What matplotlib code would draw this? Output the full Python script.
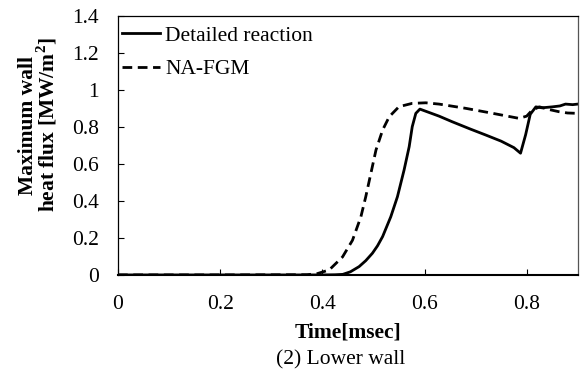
import matplotlib
matplotlib.use("Agg")
import matplotlib.pyplot as plt

plt.rcParams['font.family'] = ['Liberation Serif', 'DejaVu Serif']
plt.rcParams['mathtext.fontset'] = 'custom'
plt.rcParams['mathtext.rm'] = 'Liberation Serif'
plt.rcParams['mathtext.bf'] = 'Liberation Serif:bold'

FS = 15.5

# Time [msec] and maximum wall heat flux [MW/m^2]
t_detailed = [0.0, 0.2, 0.40, 0.425, 0.44, 0.455, 0.472, 0.485, 0.498, 0.508, 0.518,
              0.534, 0.547, 0.560, 0.570, 0.576, 0.583, 0.591, 0.6285, 0.654, 0.69,
              0.72, 0.75, 0.775, 0.788, 0.798, 0.807, 0.818, 0.83, 0.85, 0.865,
              0.876, 0.89, 0.9]
q_detailed = [0.003, 0.003, 0.003, 0.004, 0.006, 0.02, 0.048, 0.08, 0.12, 0.16, 0.21,
              0.317, 0.425, 0.569, 0.695, 0.803, 0.875, 0.898, 0.86, 0.83, 0.79,
              0.758, 0.725, 0.69, 0.66, 0.76, 0.87, 0.91, 0.905, 0.91, 0.915,
              0.925, 0.922, 0.925]

t_nafgm = [0.0, 0.2, 0.37, 0.39, 0.4135, 0.4395, 0.459, 0.4755, 0.485, 0.495,
           0.505, 0.518, 0.531, 0.550, 0.576, 0.6025, 0.6285, 0.681, 0.73, 0.785,
           0.80, 0.811, 0.825, 0.845, 0.863, 0.88, 0.9]
q_nafgm = [0.003, 0.003, 0.004, 0.01, 0.03, 0.10, 0.19, 0.317, 0.425, 0.551,
           0.677, 0.785, 0.857, 0.911, 0.929, 0.932, 0.925, 0.902, 0.877, 0.848,
           0.86, 0.893, 0.91, 0.895, 0.884, 0.877, 0.875]

x_ticks = [0, 0.2, 0.4, 0.6, 0.8]
x_ticklabels = ['0', '0.2', '0.4', '0.6', '0.8']
y_ticks = [0, 0.2, 0.4, 0.6, 0.8, 1.0, 1.2, 1.4]
y_ticklabels = ['0', '0.2', '0.4', '0.6', '0.8', '1', '1.2', '1.4']

fig = plt.figure(figsize=(5.83, 3.74), dpi=100)
ax = fig.add_axes([0.2024, 0.2634, 0.7886, 0.6936])

ax.plot(t_detailed, q_detailed, color='black', lw=2.0, label='Detailed reaction',
        solid_joinstyle='round')
ax.plot(t_nafgm, q_nafgm, color='black', lw=2.0, ls=(0, (3.5, 2.0)), label='NA-FGM')

ax.set_xlim(0, 0.9)
ax.set_ylim(0, 1.4)
ax.set_xticks(x_ticks)
ax.set_xticklabels(x_ticklabels)
ax.set_yticks(y_ticks)
ax.set_yticklabels(y_ticklabels)
ax.tick_params(direction='in', length=4, width=0.8, labelsize=FS, colors='black')
ax.tick_params(axis='y', pad=13.5)
ax.tick_params(axis='x', pad=14)

for side in ['left', 'top']:
    ax.spines[side].set_linewidth(0.9)
    ax.spines[side].set_color('black')
ax.spines['bottom'].set_linewidth(1.5)
ax.spines['right'].set_linewidth(0.9)
ax.spines['right'].set_color('#555555')

ax.set_xlabel('Time[msec]', fontsize=FS, fontweight='bold', labelpad=6)
ax.set_ylabel('Maximum wall\nheat flux [MW/m$^\\mathbf{2}$]', fontsize=FS,
              fontweight='bold', linespacing=0.8)
ax.yaxis.set_label_coords(-0.128, 0.58)

ax.legend(loc='upper left', frameon=False, fontsize=FS, handlelength=1.75,
          labelspacing=0.62, handletextpad=0.25, borderaxespad=0.0,
          borderpad=0.45, bbox_to_anchor=(-0.012, 1.0))

fig.text(0.585, 0.037, '(2) Lower wall', ha='center', va='center', fontsize=FS)

fig.savefig('out.png', dpi=100)
